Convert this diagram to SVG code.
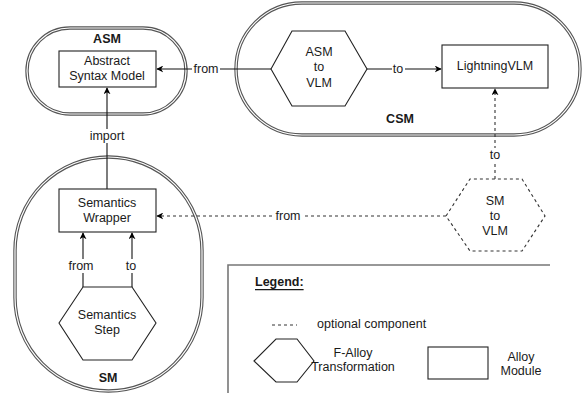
<svg xmlns="http://www.w3.org/2000/svg" width="584" height="393" viewBox="0 0 584 393">
  <defs>
    <marker id="arrow" viewBox="0 0 10 10" refX="9" refY="5" markerWidth="7" markerHeight="7" orient="auto" markerUnits="userSpaceOnUse">
      <path d="M0,0 L10,5 L0,10 L3,5 Z" fill="#000"/>
    </marker>
  </defs>
  <style>
    text { font-family: "Liberation Sans", Arial, sans-serif; font-size: 12.5px; fill: #1a1a1a; text-anchor: middle; dominant-baseline: central; }
    .bold { font-weight: bold; }
    .module-outer { fill: #fff; stroke: #555; stroke-width: 3.4; }
    .module-inner { fill: none; stroke: #fff; stroke-width: 1.2; }
    .box { fill: #fff; stroke: #222; stroke-width: 1.1; }
    .hex { fill: #fff; stroke: #222; stroke-width: 1.1; }
    .hex-opt { fill: #fff; stroke: #333; stroke-width: 1.1; stroke-dasharray: 3 3; }
    .edge { fill: none; stroke: #111; stroke-width: 1.1; }
    .edge-opt { fill: none; stroke: #333; stroke-width: 1.1; stroke-dasharray: 3 3; }
    .lbl-bg { fill: #fff; }
  </style>

  <!-- Alloy module containers -->
  <g id="asm">
    <rect class="module-outer" x="27" y="28" width="159" height="86" rx="43"/>
    <rect class="module-inner" x="27" y="28" width="159" height="86" rx="43"/>
    <text class="bold" x="107" y="39">ASM</text>
  </g>
  <g id="csm">
    <rect class="module-outer" x="236" y="3" width="344" height="132" rx="66"/>
    <rect class="module-inner" x="236" y="3" width="344" height="132" rx="66"/>
    <text class="bold" x="400" y="119">CSM</text>
  </g>
  <g id="sm">
    <rect class="module-outer" x="15" y="157" width="187" height="234" rx="93.5"/>
    <rect class="module-inner" x="15" y="157" width="187" height="234" rx="93.5"/>
    <text class="bold" x="108" y="378">SM</text>
  </g>

  <!-- Connectors -->
  <g id="connectors">
    <line class="edge" x1="271" y1="69" x2="157" y2="69" marker-end="url(#arrow)"/>
    <rect class="lbl-bg" x="192" y="62" width="28" height="14"/>
    <text x="206" y="69">from</text>

    <line class="edge" x1="367" y1="69" x2="441" y2="69" marker-end="url(#arrow)"/>
    <rect class="lbl-bg" x="392" y="62" width="13" height="14"/>
    <text x="398" y="69">to</text>

    <line class="edge" x1="107" y1="189" x2="107" y2="88" marker-end="url(#arrow)"/>
    <rect class="lbl-bg" x="88" y="129" width="38" height="14"/>
    <text x="107" y="136">import</text>

    <line class="edge-opt" x1="495" y1="179" x2="495" y2="89" marker-end="url(#arrow)"/>
    <rect class="lbl-bg" x="488" y="148" width="14" height="14"/>
    <text x="495" y="155">to</text>

    <line class="edge-opt" x1="446" y1="216" x2="157" y2="216" marker-end="url(#arrow)"/>
    <rect class="lbl-bg" x="274" y="209" width="28" height="14"/>
    <text x="288" y="216">from</text>

    <path class="edge" d="M83,287 V233" marker-end="url(#arrow)"/>
    <rect class="lbl-bg" x="68" y="259" width="28" height="14"/>
    <text x="81" y="266">from</text>

    <path class="edge" d="M132,287 V233" marker-end="url(#arrow)"/>
    <rect class="lbl-bg" x="125" y="259" width="14" height="14"/>
    <text x="131" y="266">to</text>
  </g>

  <!-- Nodes -->
  <g id="abstract-syntax-model">
    <rect class="box" x="59" y="51" width="97" height="36"/>
    <text x="107" y="61">Abstract</text>
    <text x="107" y="76">Syntax Model</text>
  </g>
  <g id="asm-to-vlm">
    <polygon class="hex" points="271,69 292,31 345,31 367,69 345,106 292,106"/>
    <text x="319" y="52">ASM</text>
    <text x="319" y="67">to</text>
    <text x="319" y="83">VLM</text>
  </g>
  <g id="lightning-vlm">
    <rect class="box" x="442" y="45" width="106" height="43"/>
    <text x="495" y="66">LightningVLM</text>
  </g>
  <g id="sm-to-vlm">
    <polygon class="hex-opt" points="446,216 470,179 522,179 545,216 522,251 470,251"/>
    <text x="495" y="201">SM</text>
    <text x="495" y="216">to</text>
    <text x="495" y="231">VLM</text>
  </g>
  <g id="semantics-wrapper">
    <rect class="box" x="59" y="189" width="97" height="43"/>
    <text x="107" y="203">Semantics</text>
    <text x="107" y="218">Wrapper</text>
  </g>
  <g id="semantics-step">
    <polygon class="hex" points="59,323 83,287 132,287 156,323 132,360 83,360"/>
    <text x="107" y="315">Semantics</text>
    <text x="107" y="330">Step</text>
  </g>

  <!-- Legend -->
  <g id="legend">
    <path d="M228,393 V265 H550" fill="none" stroke="#777" stroke-width="1.6"/>
    <text class="bold" x="255" y="282" style="text-anchor:start; text-decoration:underline">Legend:</text>
    <line x1="272" y1="325" x2="297" y2="325" stroke="#333" stroke-width="1" stroke-dasharray="3 3"/>
    <text x="317" y="324" style="text-anchor:start">optional component</text>
    <polygon class="hex" points="254,361 276,339 297,339 314,361 297,382 276,382"/>
    <text x="353" y="353">F-Alloy</text>
    <text x="353" y="367">Transformation</text>
    <rect class="box" x="428" y="347" width="60" height="32"/>
    <text x="521" y="357">Alloy</text>
    <text x="521" y="371">Module</text>
  </g>
</svg>
